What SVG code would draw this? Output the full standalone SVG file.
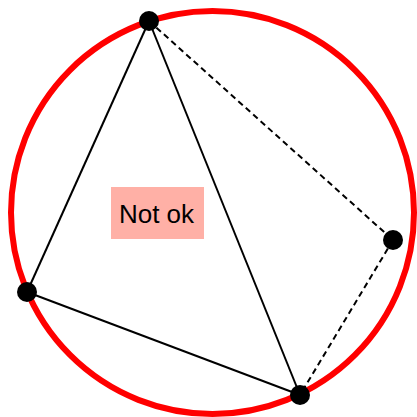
<svg xmlns="http://www.w3.org/2000/svg" width="417" height="417" viewBox="0 0 417 417">
<style>
.edge{stroke:#000;stroke-width:2;fill:none}
.dash{stroke-dasharray:6 4}
.pt{fill:#000}
.lbl{font-family:"Liberation Sans","DejaVu Sans",sans-serif;font-size:26px;fill:#000}
</style>
<rect width="417" height="417" fill="#fff"/>
<g id="circle"><circle cx="212.5" cy="212.5" r="201.5" fill="none" stroke="#ff0000" stroke-width="6"/></g>
<g id="connectors">
<line class="edge" x1="149" y1="21" x2="27" y2="292"/>
<line class="edge" x1="149" y1="21" x2="300" y2="395"/>
<line class="edge" x1="27" y1="292" x2="300" y2="395"/>
<line class="edge dash" x1="149" y1="21" x2="393" y2="240"/>
<line class="edge dash" x1="393" y1="240" x2="300" y2="395"/>
</g>
<g id="label"><rect x="111" y="187" width="93" height="52" fill="#ffb0a6"/><text class="lbl" x="156.5" y="222.5" text-anchor="middle">Not ok</text></g>
<g id="p1"><circle class="pt" cx="149" cy="21" r="10"/></g>
<g id="p2"><circle class="pt" cx="27" cy="292" r="10"/></g>
<g id="p3"><circle class="pt" cx="300" cy="395" r="10"/></g>
<g id="p4"><circle class="pt" cx="393" cy="240" r="10"/></g>
</svg>
